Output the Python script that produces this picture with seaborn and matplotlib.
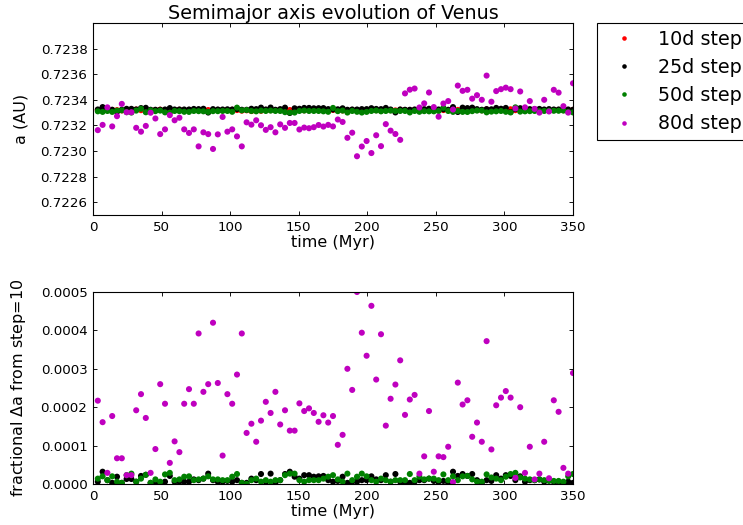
import numpy as np
import pandas as pd
import matplotlib
matplotlib.use("Agg")
import matplotlib.pyplot as plt
import seaborn as sns
from matplotlib.ticker import FormatStrFormatter

# ---------------- data ----------------
time_myr = np.arange(1, 101) * 3.5  # output every 3.5 Myr

a_10 = [0.7233200, 0.7233230, 0.7233180, 0.7233210, 0.7233190, 0.7233170, 0.7233220, 0.7233200, 0.7233240, 0.7233190,
        0.7233210, 0.7233180, 0.7233200, 0.7233230, 0.7233190, 0.7233150, 0.7233200, 0.7233220, 0.7233180, 0.7233210,
        0.7233190, 0.7233200, 0.7233240, 0.7233200, 0.7233180, 0.7233210, 0.7233200, 0.7233190, 0.7233220, 0.7233200,
        0.7233150, 0.7233180, 0.7233120, 0.7233200, 0.7233140, 0.7233210, 0.7233190, 0.7233200, 0.7233180, 0.7233220,
        0.7233200, 0.7233190, 0.7233210, 0.7233180, 0.7233200, 0.7233230, 0.7233190, 0.7233200, 0.7233180, 0.7233210,
        0.7233200, 0.7233170, 0.7233190, 0.7233210, 0.7233200, 0.7233180, 0.7233200, 0.7233220, 0.7233190, 0.7233150,
        0.7233200, 0.7233190, 0.7233170, 0.7233220, 0.7233200, 0.7233190, 0.7233210, 0.7233200, 0.7233180, 0.7233200,
        0.7233210, 0.7233190, 0.7233200, 0.7233180, 0.7233200, 0.7233210, 0.7233190, 0.7233200, 0.7233220, 0.7233200,
        0.7233180, 0.7233250, 0.7233200, 0.7233190, 0.7233210, 0.7233200, 0.7233260, 0.7233190, 0.7233200, 0.7233180,
        0.7233200, 0.7233210, 0.7233190, 0.7233200, 0.7233180, 0.7233200, 0.7233210, 0.7233190, 0.7233200, 0.7233210]

a_25 = [0.7233243, 0.7233431, 0.7233272, 0.7233222, 0.7233063, 0.7233222, 0.7233294, 0.7233294, 0.7233243, 0.7233352,
        0.7233374, 0.7233222, 0.7233222, 0.7233222, 0.7233243, 0.7233352, 0.7233243, 0.7233243, 0.7233243, 0.7233243,
        0.7233287, 0.7233272, 0.7233301, 0.7233005, 0.7233272, 0.7233243, 0.7233243, 0.7233258, 0.7233243, 0.7233272,
        0.7233222, 0.7233222, 0.7233301, 0.7233272, 0.7233388, 0.7233243, 0.7233395, 0.7233222, 0.7233272, 0.7233388,
        0.7232969, 0.7233337, 0.7233301, 0.7233366, 0.7233366, 0.7233337, 0.7233345, 0.7233352, 0.7233272, 0.7233243,
        0.7233258, 0.7233337, 0.7233222, 0.7233243, 0.7233243, 0.7233272, 0.7233272, 0.7233345, 0.7233287, 0.7233272,
        0.7233366, 0.7233243, 0.7233012, 0.7233243, 0.7233222, 0.7233222, 0.7233243, 0.7233272, 0.7233272, 0.7233301,
        0.7233258, 0.7233243, 0.7233258, 0.7233222, 0.7233431, 0.7233048, 0.7233388, 0.7233352, 0.7233388, 0.7233272,
        0.7233222, 0.7233272, 0.7233258, 0.7233366, 0.7233301, 0.7233366, 0.7233048, 0.7233272, 0.7233345, 0.7233243,
        0.7233272, 0.7233272, 0.7233287, 0.7233243, 0.7233272, 0.7233243, 0.7233243, 0.7233222, 0.7233243, 0.7233222]

a_50 = [0.7233099, 0.7233055, 0.7233128, 0.7233055, 0.7233157, 0.7233178, 0.7233034, 0.7233005, 0.7233157, 0.7233301,
        0.7233026, 0.7233178, 0.7233113, 0.7233157, 0.7233019, 0.7232990, 0.7233128, 0.7233113, 0.7233063, 0.7233055,
        0.7233128, 0.7233113, 0.7233099, 0.7233055, 0.7233113, 0.7233113, 0.7233128, 0.7233128, 0.7233063, 0.7233388,
        0.7233178, 0.7233200, 0.7233128, 0.7233099, 0.7233157, 0.7233128, 0.7233157, 0.7233128, 0.7233128, 0.7233034,
        0.7233005, 0.7233005, 0.7233128, 0.7233157, 0.7233128, 0.7233128, 0.7233128, 0.7233099, 0.7233063, 0.7233366,
        0.7233113, 0.7233157, 0.7233005, 0.7233128, 0.7233063, 0.7233005, 0.7233055, 0.7233128, 0.7233157, 0.7233099,
        0.7233128, 0.7233157, 0.7233128, 0.7233128, 0.7233128, 0.7233012, 0.7233128, 0.7233063, 0.7233113, 0.7233099,
        0.7233099, 0.7233128, 0.7233381, 0.7233128, 0.7233055, 0.7233128, 0.7233055, 0.7233048, 0.7233113, 0.7233157,
        0.7233157, 0.7233019, 0.7233077, 0.7233099, 0.7233128, 0.7233063, 0.7233012, 0.7233410, 0.7233077, 0.7233099,
        0.7233113, 0.7233128, 0.7233113, 0.7233128, 0.7233142, 0.7233142, 0.7233142, 0.7233157, 0.7233055, 0.7233012]

a_80 = [0.723163, 0.723204, 0.723341, 0.723192, 0.723272, 0.723368, 0.723303, 0.723303, 0.723181, 0.723151,
        0.723196, 0.723299, 0.723254, 0.723132, 0.723169, 0.723280, 0.723240, 0.723260, 0.723169, 0.723141,
        0.723169, 0.723036, 0.723146, 0.723132, 0.723016, 0.723130, 0.723266, 0.723151, 0.723169, 0.723114,
        0.723036, 0.723224, 0.723206, 0.723240, 0.723201, 0.723165, 0.723186, 0.723146, 0.723208, 0.723181,
        0.723219, 0.723219, 0.723168, 0.723183, 0.723178, 0.723186, 0.723203, 0.723191, 0.723204, 0.723192,
        0.723246, 0.723227, 0.723103, 0.723143, 0.722959, 0.723035, 0.723078, 0.722984, 0.723123, 0.723038,
        0.723210, 0.723159, 0.723133, 0.723087, 0.723450, 0.723479, 0.723488, 0.723340, 0.723372, 0.723457,
        0.723343, 0.723268, 0.723371, 0.723390, 0.723324, 0.723511, 0.723470, 0.723478, 0.723409, 0.723436,
        0.723400, 0.723589, 0.723385, 0.723468, 0.723483, 0.723495, 0.723483, 0.723332, 0.723465, 0.723341,
        0.723390, 0.723329, 0.723300, 0.723400, 0.723309, 0.723478, 0.723456, 0.723350, 0.723300, 0.723529]

# fractional deviation from the 10d run, in units of 1e-5
frac_25 = [0.6, 3.2, 1.0, 0.3, 1.9, 0.3, 1.3, 1.3, 0.6, 2.1,
           2.4, 0.3, 0.3, 0.3, 0.6, 2.1, 0.6, 0.6, 0.6, 0.6,
           1.2, 1.0, 1.4, 2.7, 1.0, 0.6, 0.6, 0.8, 0.6, 1.0,
           0.3, 0.3, 1.4, 1.0, 2.6, 0.6, 2.7, 0.3, 1.0, 2.6,
           3.2, 1.9, 1.4, 2.3, 2.3, 1.9, 2.0, 2.1, 1.0, 0.6,
           0.8, 1.9, 0.3, 0.6, 0.6, 1.0, 1.0, 2.0, 1.2, 1.0,
           2.3, 0.6, 2.6, 0.6, 0.3, 0.3, 0.6, 1.0, 1.0, 1.4,
           0.8, 0.6, 0.8, 0.3, 3.2, 2.1, 2.6, 2.1, 2.6, 1.0,
           0.3, 1.0, 0.8, 2.3, 1.4, 2.3, 2.1, 1.0, 2.0, 0.6,
           1.0, 1.0, 1.2, 0.6, 1.0, 0.6, 0.6, 0.3, 0.6, 0.3]

frac_50 = [1.4, 2.0, 1.0, 2.0, 0.6, 0.3, 2.3, 2.7, 0.6, 1.4,
           2.4, 0.3, 1.2, 0.6, 2.5, 2.9, 1.0, 1.2, 1.9, 2.0,
           1.0, 1.2, 1.4, 2.0, 1.2, 1.2, 1.0, 1.0, 1.9, 2.6,
           0.3, 0.0, 1.0, 1.4, 0.6, 1.0, 0.6, 1.0, 1.0, 2.3,
           2.7, 2.7, 1.0, 0.6, 1.0, 1.0, 1.0, 1.4, 1.9, 2.3,
           1.2, 0.6, 2.7, 1.0, 1.9, 2.7, 2.0, 1.0, 0.6, 1.4,
           1.0, 0.6, 1.0, 1.0, 1.0, 2.6, 1.0, 1.9, 1.2, 1.4,
           1.4, 1.0, 2.5, 1.0, 2.0, 1.0, 2.0, 2.1, 1.2, 0.6,
           0.6, 2.5, 1.7, 1.4, 1.0, 1.9, 2.6, 2.9, 1.7, 1.4,
           1.2, 1.0, 1.2, 1.0, 0.8, 0.8, 0.8, 0.6, 2.0, 2.6]

frac_80 = [21.7, 16.1, 2.9, 17.7, 6.7, 6.7, 2.3, 2.3, 19.2, 23.4,
           17.2, 2.9, 9.1, 26.0, 20.9, 5.5, 11.1, 8.3, 20.9, 24.7,
           20.9, 39.2, 24.0, 26.0, 42.0, 26.3, 7.4, 23.4, 20.9, 28.5,
           39.2, 13.3, 15.7, 11.0, 16.5, 21.4, 18.5, 24.0, 15.5, 19.2,
           13.9, 13.9, 21.0, 19.0, 19.7, 18.5, 16.2, 17.9, 16.0, 17.7,
           10.2, 12.8, 30.0, 24.5, 50.0, 39.4, 33.4, 46.4, 27.2, 39.0,
           15.2, 22.2, 25.9, 32.2, 18.0, 22.0, 23.2, 2.7, 7.2, 19.0,
           3.2, 7.2, 7.0, 9.7, 0.5, 26.4, 20.7, 21.8, 12.3, 16.0,
           11.0, 37.2, 9.0, 20.5, 22.5, 24.2, 22.5, 1.6, 20.0, 2.9,
           9.7, 1.2, 2.7, 11.0, 1.5, 21.8, 18.8, 4.2, 2.7, 28.9]

step_labels = ["10d step", "25d step", "50d step", "80d step"]
step_colors = ["#ff0000", "#000000", "#008000", "#bf00bf"]

y_ticks_top = [0.7226, 0.7228, 0.7230, 0.7232, 0.7234, 0.7236, 0.7238]
y_ticks_bot = [0.0, 0.0001, 0.0002, 0.0003, 0.0004, 0.0005]
x_ticks = [0, 50, 100, 150, 200, 250, 300, 350]

# ---------------- frames ----------------
top_df = pd.concat([
    pd.DataFrame({"time": time_myr, "a": vals, "step": lab})
    for vals, lab in zip([a_10, a_25, a_50, a_80], step_labels)
], ignore_index=True)

bot_df = pd.concat([
    pd.DataFrame({"time": time_myr, "frac": np.array(vals) * 1e-5, "step": lab})
    for vals, lab in zip([frac_25, frac_50, frac_80], step_labels[1:])
], ignore_index=True)

palette = dict(zip(step_labels, step_colors))

# ---------------- style ----------------
sns.set_theme(style="white")
plt.rcParams.update({
    "font.family": ["DejaVu Sans"],
    "xtick.direction": "in", "ytick.direction": "in",
    "xtick.top": True, "ytick.right": True,
    "xtick.bottom": True, "ytick.left": True,
    "xtick.major.size": 4, "ytick.major.size": 4,
    "xtick.major.width": 0.8, "ytick.major.width": 0.8,
    "xtick.major.pad": 5, "ytick.major.pad": 5,
    "xtick.labelsize": 12, "ytick.labelsize": 12, "axes.labelsize": 14.4,
    "axes.edgecolor": "black", "axes.linewidth": 1.0,
    "xtick.color": "black", "ytick.color": "black",
    "text.color": "black", "axes.labelcolor": "black",
})

W, H, DPI = 743, 525, 80
fig = plt.figure(figsize=(W / DPI, H / DPI), dpi=DPI, facecolor="white")
ax1 = fig.add_axes([93 / W, 1 - 215 / H, 480 / W, 192 / H])
ax2 = fig.add_axes([93 / W, 1 - 484 / H, 480 / W, 192 / H])

MS = 30
sns.scatterplot(data=top_df, x="time", y="a", hue="step", hue_order=step_labels,
                palette=palette, s=MS, linewidth=0, ax=ax1)
sns.scatterplot(data=bot_df, x="time", y="frac", hue="step", hue_order=step_labels[1:],
                palette=palette, s=MS, linewidth=0, ax=ax2, legend=False)

ax1.set_xlim(0, 350)
ax1.set_ylim(0.7225, 0.7240)
ax1.set_xticks(x_ticks)
ax1.set_yticks(y_ticks_top)
ax1.yaxis.set_major_formatter(FormatStrFormatter("%.4f"))
ax1.set_xlabel("time (Myr)", labelpad=1)
ax1.set_ylabel("a (AU)", labelpad=11)
ax1.set_title("Semimajor axis evolution of Venus", fontsize=17.28, pad=3)

ax2.set_xlim(0, 350)
ax2.set_ylim(0, 0.0005)
ax2.set_xticks(x_ticks)
ax2.set_yticks(y_ticks_bot)
ax2.yaxis.set_major_formatter(FormatStrFormatter("%.4f"))
ax2.set_xlabel("time (Myr)", labelpad=1)
ax2.set_ylabel("fractional $\\Delta$a from step=10", labelpad=11)

for ax in (ax1, ax2):
    for sp in ax.spines.values():
        sp.set_visible(True)
        sp.set_color("black")
        sp.set_linewidth(1.0)
    ax.tick_params(which="both", direction="in", top=True, right=True)

handles, labels = ax1.get_legend_handles_labels()
leg = ax1.legend(handles, labels, loc="upper left", bbox_to_anchor=(1.05, 1.0),
                 borderaxespad=0, frameon=True, fancybox=False, framealpha=1,
                 edgecolor="black", fontsize=17.28, markerscale=0.75,
                 handlelength=2.1, handletextpad=0.75, borderpad=0.35, labelspacing=0.48)
leg.get_frame().set_linewidth(1.0)

fig.savefig("out.png", dpi=DPI, facecolor="white")
